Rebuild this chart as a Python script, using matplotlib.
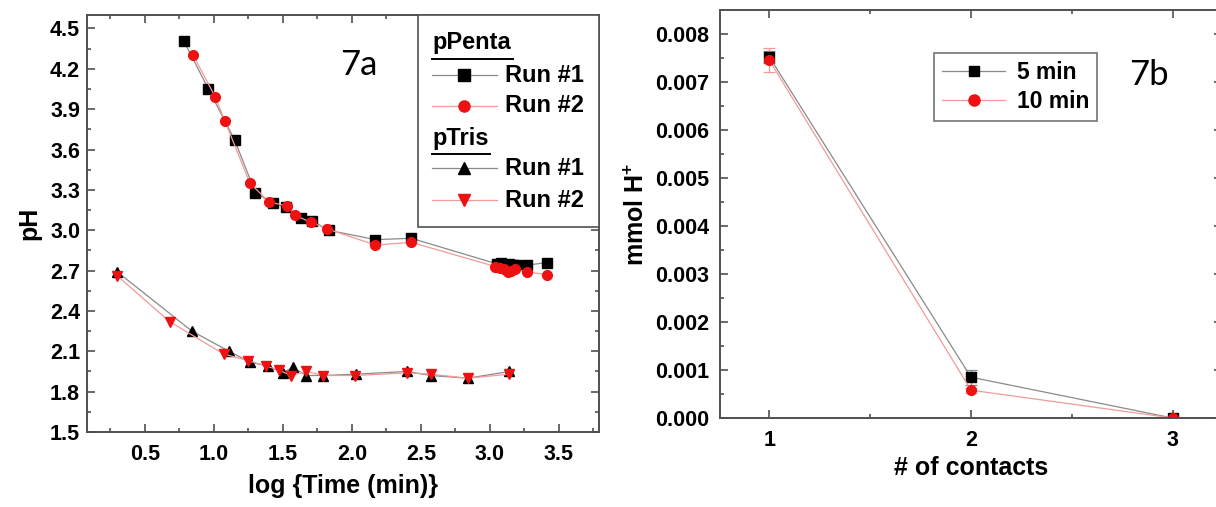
import matplotlib
matplotlib.use('Agg')
import matplotlib.pyplot as plt
from matplotlib.lines import Line2D
from matplotlib.patches import Rectangle
from matplotlib.ticker import MultipleLocator, FormatStrFormatter

plt.rcParams['font.family'] = ['Liberation Sans', 'DejaVu Sans']
plt.rcParams['font.weight'] = 'bold'
plt.rcParams['mathtext.fontset'] = 'custom'
plt.rcParams['mathtext.rm'] = 'Liberation Sans:bold'
plt.rcParams['mathtext.bf'] = 'Liberation Sans:bold'

# 7a: pH vs log time
penta1_x = [0.78, 0.96, 1.15, 1.30, 1.43, 1.52, 1.63, 1.71, 1.83, 2.17, 2.43,
            3.05, 3.08, 3.11, 3.14, 3.17, 3.19, 3.27, 3.41]
penta1_y = [4.41, 4.05, 3.67, 3.28, 3.20, 3.17, 3.09, 3.07, 3.00, 2.93, 2.94,
            2.75, 2.76, 2.74, 2.75, 2.74, 2.74, 2.74, 2.76]
penta2_x = [0.85, 1.01, 1.08, 1.26, 1.40, 1.53, 1.59, 1.70, 1.82, 2.17, 2.43,
            3.04, 3.07, 3.10, 3.13, 3.15, 3.18, 3.27, 3.41]
penta2_y = [4.30, 3.99, 3.81, 3.35, 3.21, 3.18, 3.11, 3.06, 3.01, 2.89, 2.91,
            2.73, 2.72, 2.71, 2.69, 2.70, 2.71, 2.69, 2.67]
tris1_x = [0.30, 0.84, 1.11, 1.26, 1.39, 1.50, 1.57, 1.67, 1.79, 2.03, 2.40, 2.57, 2.84, 3.14]
tris1_y = [2.69, 2.25, 2.10, 2.02, 1.99, 1.94, 1.98, 1.92, 1.92, 1.93, 1.95, 1.92, 1.90, 1.95]
tris2_x = [0.30, 0.68, 1.07, 1.25, 1.38, 1.47, 1.56, 1.67, 1.79, 2.02, 2.40, 2.57, 2.84, 3.14]
tris2_y = [2.66, 2.32, 2.08, 2.03, 1.99, 1.96, 1.92, 1.95, 1.92, 1.92, 1.94, 1.93, 1.90, 1.93]

# 7b: mmol H+ vs number of contacts
contacts = [1, 2, 3]
min5 = [0.00752, 0.00085, 0.0]
min5_err = [0.00012, 0.00016, 0.0]
min10 = [0.00745, 0.00058, 0.0]
min10_err = [0.00025, 0.00005, 0.0]

GRAY = '#8a8a8a'
PINK = '#f29a9a'
RED = '#ee1111'
SPINE = '#505050'
TICK_FS = 15.5
LABEL_FS = 18


def style_axes(ax, ypad):
    for s in ax.spines.values():
        s.set_color(SPINE)
        s.set_linewidth(1.4)
    ax.tick_params(which='both', direction='in', top=True, right=True,
                   color=SPINE, width=1.2, labelsize=TICK_FS)
    ax.tick_params(which='major', length=6)
    ax.tick_params(which='minor', length=3)
    ax.tick_params(axis='x', which='major', pad=9)
    ax.tick_params(axis='y', which='major', pad=ypad)


fig = plt.figure(figsize=(12.16, 5.07), dpi=100)

# ---- left panel ----
ax1 = fig.add_axes([87 / 1216, 1 - 432 / 507, 512 / 1216, 417 / 507])
ax1.plot(penta1_x, penta1_y, color=GRAY, lw=0.9, marker='s', ms=6.5,
         mfc='black', mec='black')
ax1.plot(penta2_x, penta2_y, color=PINK, lw=0.9, marker='o', ms=7,
         mfc=RED, mec=RED)
ax1.plot(tris1_x, tris1_y, color=GRAY, lw=0.9, marker='^', ms=7,
         mfc='black', mec='black')
ax1.plot(tris2_x, tris2_y, color=PINK, lw=0.9, marker='v', ms=7,
         mfc=RED, mec=RED)
ax1.set_xlim(0.08, 3.79)
ax1.set_ylim(1.5, 4.6)
ax1.xaxis.set_major_locator(MultipleLocator(0.5))
ax1.xaxis.set_minor_locator(MultipleLocator(0.25))
ax1.yaxis.set_major_locator(MultipleLocator(0.3))
ax1.yaxis.set_minor_locator(MultipleLocator(0.15))
ax1.xaxis.set_major_formatter(FormatStrFormatter('%.1f'))
ax1.yaxis.set_major_formatter(FormatStrFormatter('%.1f'))
style_axes(ax1, 5)
ax1.set_xlabel('log {Time (min)}', fontsize=LABEL_FS, fontweight='bold', labelpad=6)
ax1.set_ylabel('pH', fontsize=LABEL_FS, fontweight='bold', labelpad=6)
ax1.text(0.53, 0.88, '7a', transform=ax1.transAxes, fontsize=25,
         fontweight='normal', family='Lato', ha='center', va='center')

# legend box drawn by hand (group headers are underlined)
tr = ax1.transAxes
ax1.add_patch(Rectangle((0.6465, 0.492), 0.3535, 0.508, transform=tr,
                        facecolor='white', edgecolor=SPINE, lw=1.2, zorder=5))
leg_rows = [
    ('head', 'pPenta', 0.933, None),
    ('run', 'Run #1', 0.856, (GRAY, 's', 'black')),
    ('run', 'Run #2', 0.782, (PINK, 'o', RED)),
    ('head', 'pTris', 0.705, None),
    ('run', 'Run #1', 0.633, (GRAY, '^', 'black')),
    ('run', 'Run #2', 0.556, (PINK, 'v', RED)),
]
for kind, label, y, sty in leg_rows:
    if kind == 'head':
        ax1.text(0.674, y, label, transform=tr, fontsize=17,
                 fontweight='bold', ha='left', va='center', zorder=6)
        w = 0.158 if label == 'pPenta' else 0.113
        ax1.add_line(Line2D([0.674, 0.674 + w], [y - 0.038, y - 0.038],
                            transform=tr, color='black', lw=1.4, zorder=6))
    else:
        lc, mk, mc = sty
        ax1.add_line(Line2D([0.674, 0.801], [y, y], transform=tr, color=lc,
                            lw=0.9, zorder=6))
        ax1.add_line(Line2D([0.737], [y], transform=tr, marker=mk, ms=8,
                            mfc=mc, mec=mc, ls='none', zorder=7))
        ax1.text(0.816, y, label, transform=tr, fontsize=17,
                 fontweight='bold', ha='left', va='center', zorder=6)

# ---- right panel ----
ax2 = fig.add_axes([720 / 1216, 1 - 418 / 507, 502 / 1216, 408 / 507])
ax2.errorbar(contacts, min5, yerr=min5_err, color=GRAY, lw=0.9, marker='s',
             ms=6.5, mfc='black', mec='black', ecolor=GRAY, elinewidth=0.9,
             capsize=4, capthick=0.9)
ax2.errorbar(contacts, min10, yerr=min10_err, color=PINK, lw=0.9, marker='o',
             ms=7, mfc=RED, mec=RED, ecolor=PINK, elinewidth=0.9,
             capsize=4, capthick=0.9)
ax2.set_xlim(0.755, 3.245)
ax2.set_ylim(0, 0.0085)
ax2.xaxis.set_major_locator(MultipleLocator(1))
ax2.xaxis.set_minor_locator(MultipleLocator(0.5))
ax2.yaxis.set_major_locator(MultipleLocator(0.001))
ax2.yaxis.set_minor_locator(MultipleLocator(0.0005))
ax2.yaxis.set_major_formatter(FormatStrFormatter('%.3f'))
style_axes(ax2, 8)
ax2.set_xlabel('# of contacts', fontsize=LABEL_FS, fontweight='bold', labelpad=3)
ax2.set_ylabel(r'mmol H$^{\mathbf{+}}$', fontsize=LABEL_FS, fontweight='bold',
               labelpad=4)
ax2.text(0.855, 0.84, '7b', transform=ax2.transAxes, fontsize=25,
         fontweight='normal', family='Lato', ha='center', va='center')
handles = [Line2D([], [], color=GRAY, lw=0.9, marker='s', ms=7.5,
                  mfc='black', mec='black'),
           Line2D([], [], color=PINK, lw=0.9, marker='o', ms=8,
                  mfc=RED, mec=RED)]
leg = ax2.legend(handles, ['5 min', '10 min'], loc='upper left',
                 bbox_to_anchor=(0.427, 0.895), borderaxespad=0,
                 fancybox=False, edgecolor=SPINE,
                 prop={'size': 16.5, 'weight': 'bold'}, handlelength=2.75,
                 handletextpad=0.5, borderpad=0.35, labelspacing=0.25)
leg.get_frame().set_linewidth(1.2)

fig.savefig('out.png', dpi=100)
